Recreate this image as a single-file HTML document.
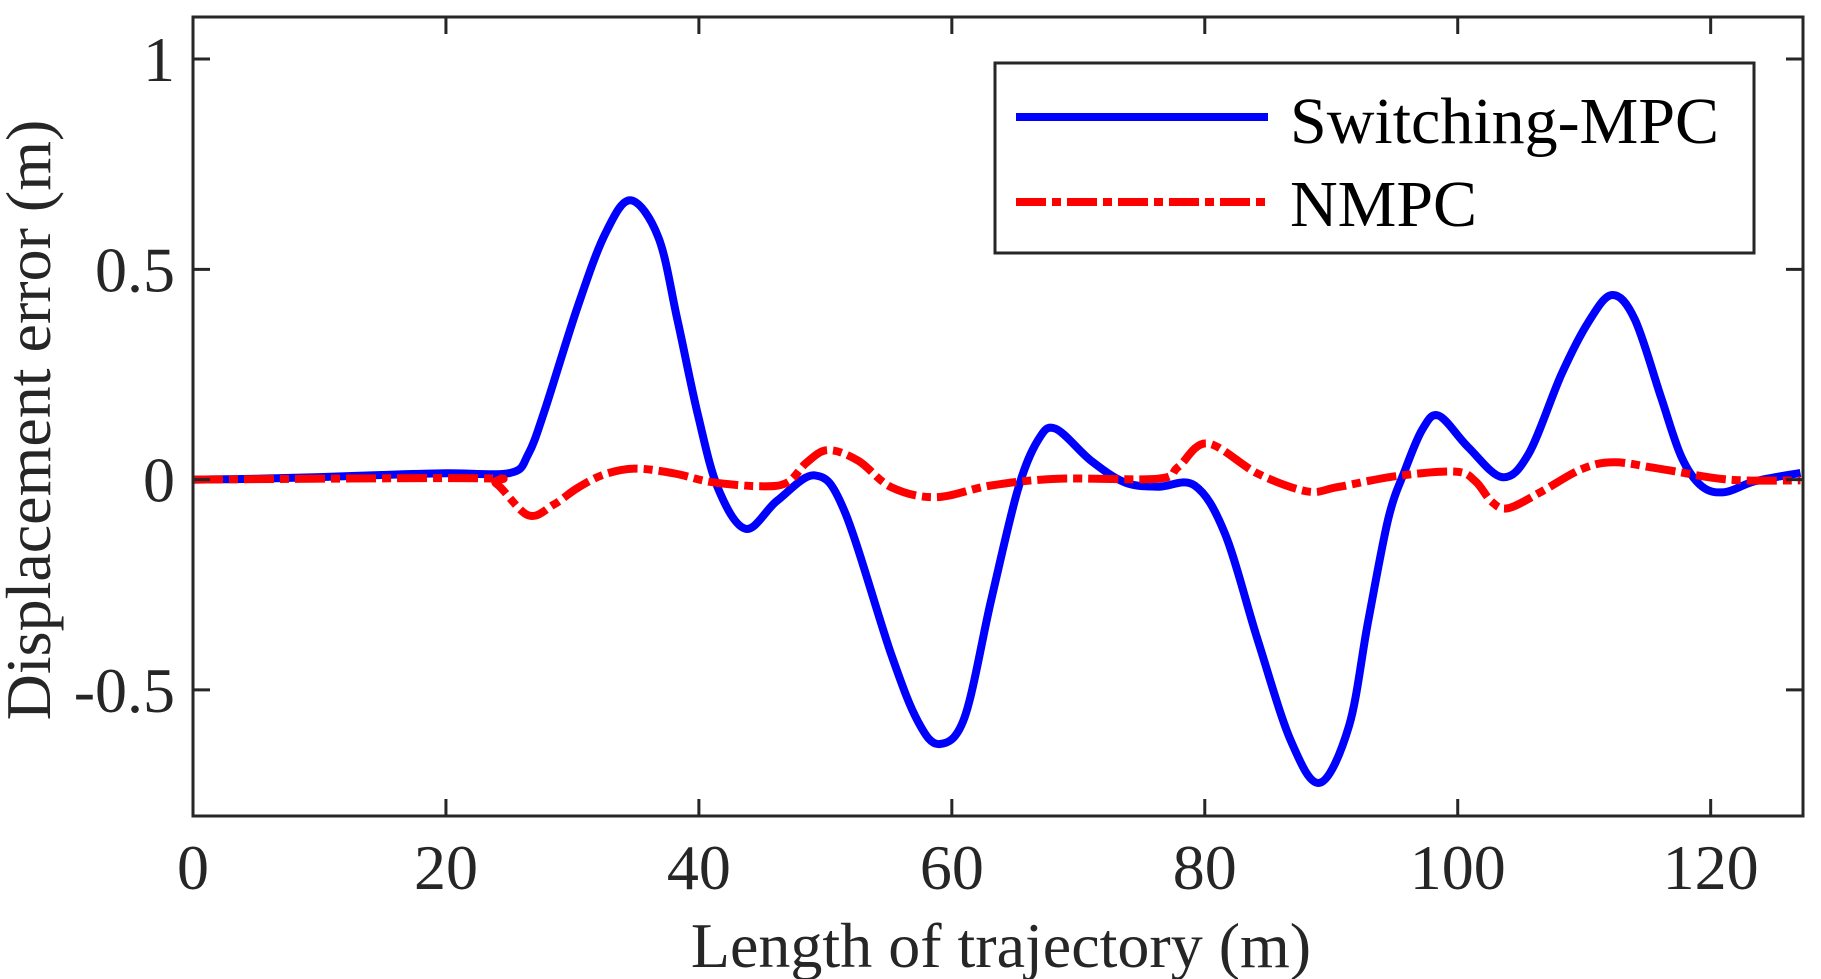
<!DOCTYPE html>
<html><head><meta charset="utf-8"><style>
html,body{margin:0;padding:0;background:#fff;}
svg{display:block;font-family:"Liberation Serif",serif;}
</style></head><body>
<svg id="chart" width="1821" height="979" viewBox="0 0 1821 979">
<defs><clipPath id="plotclip"><rect x="193" y="17" width="1610" height="799"/></clipPath></defs>
<rect x="0" y="0" width="1821" height="979" fill="#fff"/>
<g id="series" clip-path="url(#plotclip)"></g>
<g id="axes"></g>
<text x="1001" y="967" font-size="64" text-anchor="middle" fill="#262626">Length of trajectory (m)</text>
<text transform="translate(50,420) rotate(-90)" font-size="64" text-anchor="middle" fill="#262626">Displacement error (m)</text>
<g>
<rect x="995" y="63" width="759" height="190" fill="#fff" stroke="#262626" stroke-width="3"/>
<line x1="1016" y1="117" x2="1268" y2="117" stroke="#0000ff" stroke-width="8"/>
<text x="1290" y="143" font-size="66" fill="#000">Switching-MPC</text>
<line x1="1016" y1="202" x2="1268" y2="202" stroke="#ff0000" stroke-width="8" stroke-dasharray="30 6 9 6"/>
<text x="1290" y="226" font-size="66" fill="#000">NMPC</text>
</g>
</svg>
<script>
const blueX=[0,5,10,15,20,25.1,26.5,27.8,30.4,32.6,34.6,36.8,38.3,39.9,41.5,43.7,46.2,49.2,51.5,55.2,57.3,59.0,61.0,63.1,65.2,66.8,68.2,71.0,73.7,76.3,79.2,81.6,84.2,86.8,89.1,91.4,92.9,94.5,95.8,97.2,98.5,100.8,103.5,105.6,108.2,110.3,112.2,114.0,116.1,117.7,119.3,121.1,123.5,127.1];
const blueY=[0,0.002,0.006,0.011,0.015,0.016,0.06,0.164,0.41,0.585,0.664,0.576,0.38,0.157,-0.02,-0.117,-0.05,0.01,-0.074,-0.415,-0.574,-0.629,-0.566,-0.288,-0.026,0.093,0.121,0.045,-0.007,-0.017,-0.014,-0.129,-0.383,-0.621,-0.721,-0.586,-0.34,-0.094,0.02,0.119,0.152,0.078,0.006,0.061,0.25,0.373,0.439,0.381,0.193,0.053,-0.016,-0.03,-0.004,0.016];
const redX=[0,22.5,24,26.5,28.5,30.4,32.5,34.9,38,41,44.9,47,48.5,50.2,52.6,55.2,58.7,63.1,68.4,76.3,77.9,80.2,84.2,88.1,90.5,95.1,99.8,101.4,102.7,104.0,106.6,109.8,112.4,116.1,121.4,127.1];
const redY=[0,0.003,-0.01,-0.085,-0.06,-0.02,0.012,0.026,0.015,-0.006,-0.016,-0.007,0.04,0.07,0.045,-0.018,-0.042,-0.014,0.002,0.002,0.03,0.086,0.014,-0.028,-0.018,0.008,0.019,-0.004,-0.053,-0.068,-0.029,0.025,0.041,0.025,0,-0.002];
const xTicks=[0,20,40,60,80,100,120];
const yTicks=[-0.5,0,0.5,1];
const yTickLabels=["-0.5","0","0.5","1"];

const NS="http://www.w3.org/2000/svg";
const X0=193,X1=1803,Y0=17,Y1=816,XMIN=0,XMAX=127.3,YMIN=-0.8,YMAX=1.1;
function sx(v){return X0+(v-XMIN)/(XMAX-XMIN)*(X1-X0);}
function sy(v){return Y1-(v-YMIN)/(YMAX-YMIN)*(Y1-Y0);}
function pathFrom(xs,ys){
  const p=xs.map((x,i)=>[sx(x),sy(ys[i])]);
  let d="M"+p[0][0].toFixed(1)+","+p[0][1].toFixed(1);
  for(let i=0;i<p.length-1;i++){
    const a=p[Math.max(0,i-1)],b=p[i],c=p[i+1],e=p[Math.min(p.length-1,i+2)];
    const c1=[b[0]+(c[0]-a[0])/6,b[1]+(c[1]-a[1])/6];
    const c2=[c[0]-(e[0]-b[0])/6,c[1]-(e[1]-b[1])/6];
    d+=" C"+c1[0].toFixed(1)+","+c1[1].toFixed(1)+" "+c2[0].toFixed(1)+","+c2[1].toFixed(1)+" "+c[0].toFixed(1)+","+c[1].toFixed(1);
  }
  return d;
}
const series=document.getElementById('series');
const bl=document.createElementNS(NS,'path');
bl.setAttribute('d',pathFrom(blueX,blueY));
bl.setAttribute('fill','none');bl.setAttribute('stroke','#0000ff');bl.setAttribute('stroke-width','8');bl.setAttribute('stroke-linejoin','round');


series.appendChild(bl);
const rl=document.createElementNS(NS,'path');
rl.setAttribute('d',pathFrom(redX,redY));
rl.setAttribute('fill','none');rl.setAttribute('stroke','#ff0000');rl.setAttribute('stroke-width','8');rl.setAttribute('stroke-dasharray','30 6 9 6');


series.appendChild(rl);

const axes=document.getElementById('axes');
const frame=document.createElementNS(NS,'rect');
frame.setAttribute('x',X0);frame.setAttribute('y',Y0);frame.setAttribute('width',X1-X0);frame.setAttribute('height',Y1-Y0);
frame.setAttribute('fill','none');frame.setAttribute('stroke','#262626');frame.setAttribute('stroke-width','3');


axes.appendChild(frame);
function ln(x1,y1,x2,y2,name){
  const l=document.createElementNS(NS,'line');
  l.setAttribute('x1',x1);l.setAttribute('y1',y1);l.setAttribute('x2',x2);l.setAttribute('y2',y2);
  l.setAttribute('stroke','#262626');l.setAttribute('stroke-width','3');
  
  
  axes.appendChild(l);
}
xTicks.forEach(v=>{
  const x=sx(v);
  ln(x,Y1,x,Y1-17,'x-tick');
  ln(x,Y0,x,Y0+17,'x-tick-top');
  const t=document.createElementNS(NS,'text');
  t.setAttribute('x',x);t.setAttribute('y',889);t.setAttribute('font-size','64');t.setAttribute('text-anchor','middle');t.setAttribute('fill','#262626');
  t.textContent=String(v);
  
  
  axes.appendChild(t);
});
yTicks.forEach((v,i)=>{
  const y=sy(v);
  ln(X0,y,X0+17,y,'y-tick');
  ln(X1,y,X1-17,y,'y-tick-right');
  const t=document.createElementNS(NS,'text');
  t.setAttribute('x',175);t.setAttribute('y',y+22);t.setAttribute('font-size','64');t.setAttribute('text-anchor','end');t.setAttribute('fill','#262626');
  t.textContent=yTickLabels[i];
  
  
  axes.appendChild(t);
});
</script>
</body></html>
